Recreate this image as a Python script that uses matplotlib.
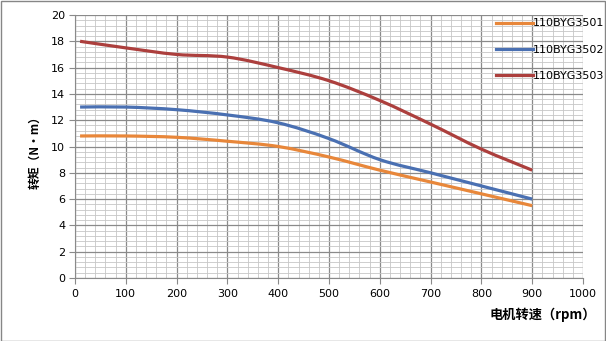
import matplotlib
matplotlib.use("Agg")
import matplotlib.pyplot as plt
from matplotlib.path import Path
from matplotlib.patches import PathPatch, Rectangle
from matplotlib.lines import Line2D
from matplotlib.ticker import MultipleLocator
import numpy as np

plt.rcParams['font.family'] = ['DejaVu Sans', 'Noto Sans CJK SC']

speed = [10, 100, 200, 300, 400, 500, 600, 700, 800, 900]
torque_3501 = [10.8, 10.8, 10.7, 10.4, 10.0, 9.2, 8.2, 7.3, 6.4, 5.5]
torque_3502 = [13.0, 13.0, 12.8, 12.4, 11.8, 10.6, 9.0, 8.0, 7.0, 6.0]
torque_3503 = [18.0, 17.5, 17.0, 16.8, 16.0, 15.0, 13.5, 11.7, 9.8, 8.2]
series_names = ['110BYG3501', '110BYG3502', '110BYG3503']
series_colors = ['#E8873A', '#4A70B2', '#AC3F3D']
x_label = '电机转速（rpm）'
y_label = '转矩（N·m）'


def smooth_path(xs, ys):
    pts = np.column_stack([xs, ys]).astype(float)
    n = len(pts)
    verts = [pts[0]]
    codes = [Path.MOVETO]
    for i in range(n - 1):
        p_prev = pts[i - 1] if i > 0 else pts[i]
        p0 = pts[i]
        p1 = pts[i + 1]
        p_next = pts[i + 2] if i + 2 < n else pts[i + 1]
        c1 = p0 + (p1 - p_prev) / 6.0
        c2 = p1 - (p_next - p0) / 6.0
        verts += [c1, c2, p1]
        codes += [Path.CURVE4] * 3
    return Path(verts, codes)


fig = plt.figure(figsize=(6.06, 3.41), dpi=100)
ax = fig.add_axes([75 / 606, 1 - 278 / 341, (583 - 75) / 606, (278 - 15) / 341])

ax.set_xlim(0, 1000)
ax.set_ylim(0, 20)
ax.xaxis.set_major_locator(MultipleLocator(100))
ax.xaxis.set_minor_locator(MultipleLocator(20))
ax.yaxis.set_major_locator(MultipleLocator(2))
ax.yaxis.set_minor_locator(MultipleLocator(0.4))
ax.grid(which='major', color='#8A8A8A', linewidth=0.9)
ax.grid(which='minor', color='#C6C6C6', linewidth=0.6)
ax.set_axisbelow(True)
for s in ['top', 'right']:
    ax.spines[s].set_visible(False)
for s in ['left', 'bottom']:
    ax.spines[s].set_color('#8A8A8A')
ax.tick_params(which='major', length=4, color='#8A8A8A', labelsize=8, pad=3)
ax.tick_params(which='minor', length=0)
ax.tick_params(axis='x', pad=4)

handles = []
for ys, name, col in zip([torque_3501, torque_3502, torque_3503], series_names, series_colors):
    patch = PathPatch(smooth_path(speed, ys), facecolor='none', edgecolor=col,
                      linewidth=2.3, capstyle='butt', transform=ax.transData, zorder=3)
    ax.add_patch(patch)
    handles.append(Line2D([0], [0], color=col, linewidth=2.3))

leg = fig.legend(handles, series_names, loc='upper left', bbox_to_anchor=(492 / 606, 1 - 14 / 341),
                 frameon=False, fontsize=8, handlelength=3.3, handletextpad=0.0,
                 labelspacing=1.45, borderaxespad=0)

fig.text(35 / 606, 1 - 150 / 341, y_label, rotation=90, ha='center', va='center',
         fontsize=8.5, fontweight='bold', family=['Noto Sans CJK SC', 'DejaVu Sans'])
fig.text(596 / 606, 1 - 315 / 341, x_label, ha='right', va='center',
         fontsize=9.5, fontweight='bold', family=['Noto Sans CJK SC', 'DejaVu Sans'])

fig.patches.append(Rectangle((0.5 / 606, 0.5 / 341), 1 - 1.5 / 606, 1 - 1.5 / 341,
                             transform=fig.transFigure, fill=False, edgecolor='#868686',
                             linewidth=1.0))

fig.savefig('out.png', dpi=100)
